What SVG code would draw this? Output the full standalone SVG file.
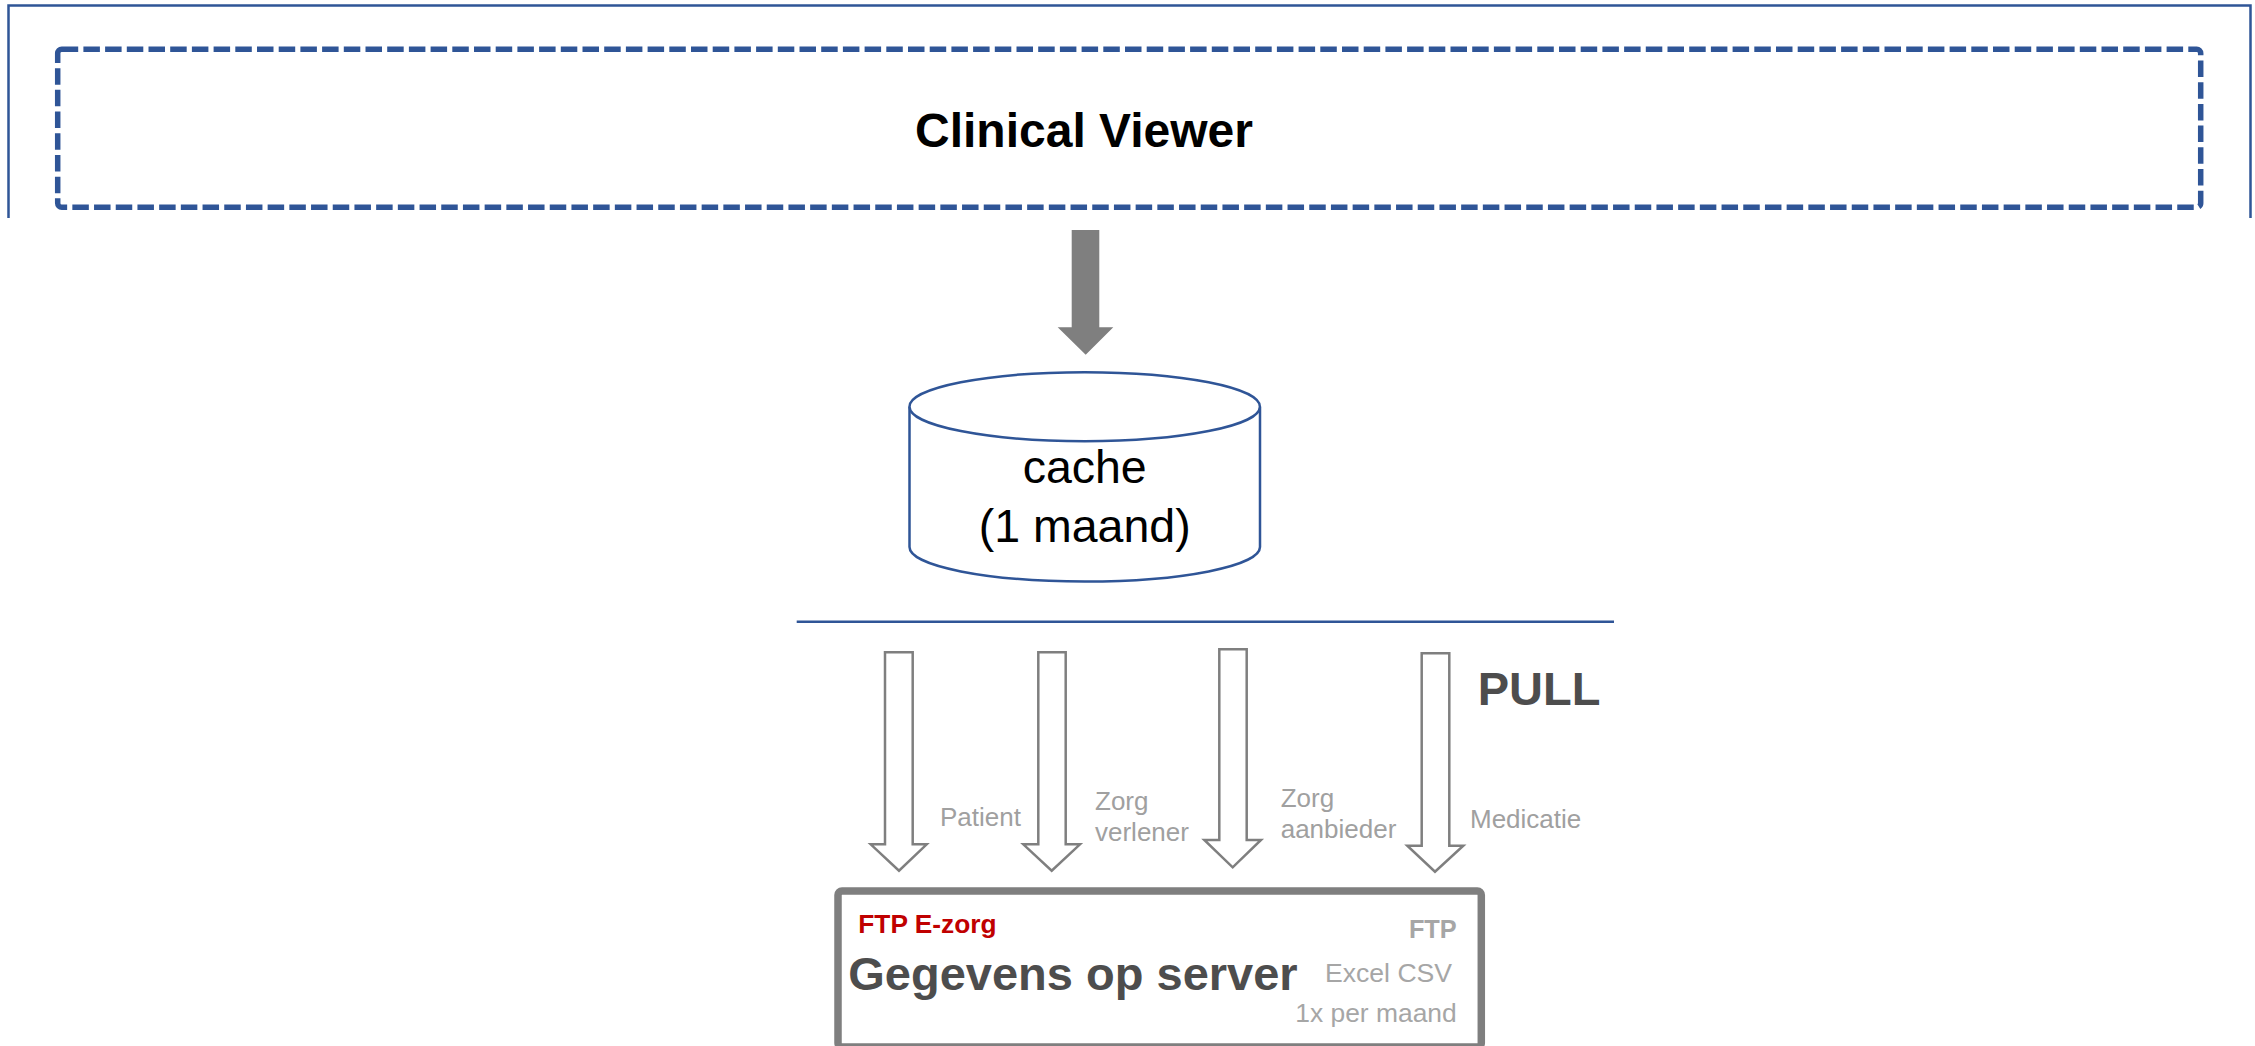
<svg xmlns="http://www.w3.org/2000/svg" width="2255" height="1046" viewBox="0 0 2255 1046">
  <style>
    .blue { fill: none; stroke: #2F5597; stroke-width: 2.5; }
    .hollow { fill: #FFFFFF; stroke: #7F7F7F; stroke-width: 2.5; stroke-linejoin: miter; }
    .lbl { font-family: "Liberation Sans", Arial, sans-serif; font-size: 26px; fill: #A0A0A0; }
    .sans { font-family: "Liberation Sans", Arial, sans-serif; }
  </style>
  <rect width="2255" height="1046" fill="#FFFFFF"/>

  <g id="frame">
    <path d="M8.5,218 V5.5 H2250.5 V218" class="blue"/>
  </g>

  <g id="clinical-viewer">
    <rect x="57.7" y="49.3" width="2143" height="158" rx="4" fill="none" stroke="#2F5597" stroke-width="5.5" stroke-dasharray="16.5 5.2"/>
    <text x="1084" y="147" text-anchor="middle" class="sans" font-size="48" font-weight="bold" fill="#000000">Clinical Viewer</text>
  </g>

  <g id="cache">
    <path d="M909.5,406.7 V547 A175.2,34.5 0 0 0 1260,547 V406.7" fill="#FFFFFF" stroke="#2F5597" stroke-width="2.5"/>
    <ellipse cx="1084.7" cy="406.7" rx="175.2" ry="34.5" fill="#FFFFFF" stroke="#2F5597" stroke-width="2.5"/>
    <text x="1084.7" y="483.3" text-anchor="middle" class="sans" font-size="46.5" fill="#000000">cache</text>
    <text x="1084.7" y="541.7" text-anchor="middle" class="sans" font-size="46.5" fill="#000000">(1 maand)</text>
  </g>

  <g id="pull-line">
    <line x1="796.7" y1="621.7" x2="1614" y2="621.7" stroke="#2F5597" stroke-width="2.5"/>
    <text x="1477.7" y="705" class="sans" font-size="47" font-weight="bold" fill="#4D4D4D">PULL</text>
  </g>

  <g id="connectors">
    <polygon points="1071.7,230 1099.3,230 1099.3,327.3 1113.3,327.3 1085.7,354.7 1057.7,327.3 1071.7,327.3" fill="#7F7F7F"/>
    <polygon class="hollow" points="885,652.3 912.7,652.3 912.7,844.3 926.7,844.3 899,870.7 870.7,844.3 885,844.3"/>
    <polygon class="hollow" points="1038.3,652.3 1065.7,652.3 1065.7,844.3 1080,844.3 1051.7,870.7 1023.3,844.3 1038.3,844.3"/>
    <polygon class="hollow" points="1219.3,649.3 1246.7,649.3 1246.7,840 1261,840 1232.7,867.3 1204.3,840 1219.3,840"/>
    <polygon class="hollow" points="1421.7,653.3 1449.3,653.3 1449.3,845.7 1463.3,845.7 1435,871.7 1407.3,845.7 1421.7,845.7"/>
    <text x="940" y="826" class="lbl">Patient</text>
    <text x="1095" y="809.5" class="lbl">Zorg</text>
    <text x="1095" y="840.7" class="lbl">verlener</text>
    <text x="1280.7" y="807.3" class="lbl">Zorg</text>
    <text x="1280.7" y="838.3" class="lbl">aanbieder</text>
    <text x="1470" y="827.7" class="lbl">Medicatie</text>
  </g>

  <g id="server">
    <rect x="838" y="891" width="643.3" height="156" rx="4" fill="#FFFFFF" stroke="#7F7F7F" stroke-width="7.5"/>
    <text x="858.3" y="932.7" class="sans" font-size="26.3" font-weight="bold" fill="#C00000">FTP E-zorg</text>
    <text x="1456.7" y="938.3" text-anchor="end" class="sans" font-size="25.3" font-weight="bold" fill="#A6A6A6">FTP</text>
    <text x="848.3" y="990" class="sans" font-size="47" font-weight="bold" fill="#4D4D4D">Gegevens op server</text>
    <text x="1325" y="981.7" class="sans" font-size="26.6" fill="#A6A6A6">Excel CSV</text>
    <text x="1456.7" y="1021.7" text-anchor="end" class="sans" font-size="26.4" fill="#A6A6A6">1x per maand</text>
  </g>
</svg>
